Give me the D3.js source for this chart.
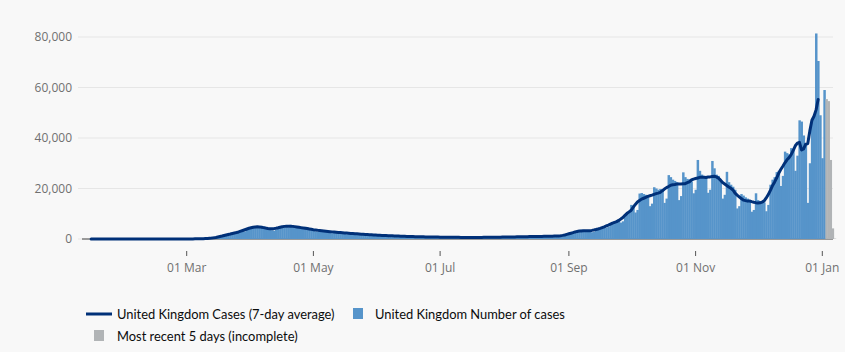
<!DOCTYPE html>
<html><head><meta charset="utf-8">
<script src="https://cdn.jsdelivr.net/npm/d3@7"></script>
<style>
html,body{margin:0;padding:0;background:#f8f8f8;}
svg{display:block;}
</style></head><body>
<svg id="chart" width="845" height="352"></svg>
<script>
// ---- data ----
const casesStartDate = "2020-01-12";
const avgStartDate = "2020-01-15";
const incompleteDays = 5;

const cases_2020_01 = [0,0,0,0,0,0,0,0,0,0,0,0,0,0,0,0,0,0,1,1];
const cases_2020_02 = [0,1,0,1,1,0,0,1,0,1,1,1,0,1,2,1,2,2,3,3,4,3,5,6,8,10,12,15,18];
const cases_2020_03 = [12,20,28,40,55,70,60,80,150,210,260,330,380,340,420,900,1100,1300,1500,1650,1500,1700,2200,2500,2800,3000,3100,2900,3000,4200,4600];
const cases_2020_04 = [4800,5000,5100,4300,4400,5200,4900,4700,4500,3900,3500,3300,3700,4700,4900,5100,5000,4700,4600,5600,5500,5100,5000,4700,4000,3900,4800,4600,4300,4100];
const cases_2020_05 = [3700,3000,2800,3600,3500,3300,3100,2700,2400,2300,3000,2900,2800,2600,2400,2000,1900,2500,2400,2300,2200,2000,1650,1550,1750,1950,1950,1850,1750,1350,1250];
const cases_2020_06 = [1600,1600,1500,1450,1400,1100,1050,1350,1300,1250,1200,1150,900,850,1100,1100,1050,1000,950,800,750,950,950,900,880,850,700,680,900,880];
const cases_2020_07 = [820,800,750,620,580,780,760,720,700,680,540,520,720,700,680,660,650,560,540,760,740,720,700,700,600,580,820,820,800,800,780];
const cases_2020_08 = [680,640,900,900,880,860,850,720,700,1000,1000,980,960,950,820,800,1150,1150,1100,1100,1080,900,880,1200,1200,1250,1300,1350,1150,1200,1700];
const cases_2020_09 = [2100,2500,2900,3000,2600,2800,3700,3600,3500,3300,3200,2700,2800,4100,4300,4500,4600,4800,4500,4900,6300,6700,7000,7300,7400,6500,7000,9600,10400,11200];
const cases_2020_10 = [13500,13000,10500,11500,18000,18200,17800,17500,17000,13000,14000,20500,20000,19500,19800,19000,14300,16000,25300,24500,23500,23000,22500,15400,17000,26400,24500,23800,23600,22800,18100];
const cases_2020_11 = [19500,31300,27000,25500,25000,24500,18300,19500,30900,28000,25500,25000,23500,16000,17500,26600,22500,21500,20700,19500,12100,13000,17800,17200,16500,16000,15200,10800,11500,18100];
const cases_2020_12 = [15400,15000,14800,14500,11000,13500,21500,23500,24500,26500,27000,21000,25000,34600,34000,33500,36000,35500,27000,33000,47000,46500,41000,38000,14300,30000,46000,49000,81400,70500,49000];
const cases_2021_01 = [32000,59000,55400,54600,31300,4200,150];

const avg_2020_01 = [0,0,0,0,0,0,0,0,0,0,0,0,0,0,0,0,0];
const avg_2020_02 = [0,0,1,1,1,1,1,1,1,1,1,1,1,1,1,1,2,2,2,3,3,4,5,6,7,9,11,13,16];
const avg_2020_03 = [15,22,32,43,55,70,93,118,148,184,227,299,375,470,615,790,970,1160,1380,1600,1810,1980,2200,2400,2570,2790,3100,3370,3660,3970,4250];
const avg_2020_04 = [4450,4650,4780,4850,4800,4680,4500,4330,4180,4080,4040,4100,4250,4450,4680,4880,5000,5060,5070,5040,5000,4900,4780,4640,4500,4370,4250,4120,3980,3850];
const avg_2020_05 = [3700,3600,3480,3380,3280,3180,3080,2990,2900,2820,2740,2670,2600,2530,2460,2400,2340,2280,2220,2160,2100,2040,1980,1920,1860,1800,1740,1690,1640,1590,1550];
const avg_2020_06 = [1510,1470,1430,1390,1350,1310,1270,1240,1210,1180,1150,1120,1090,1060,1030,1000,975,950,930,910,890,870,855,840,825,810,795,780,765,750];
const avg_2020_07 = [738,726,714,703,692,682,672,663,655,648,642,637,633,630,628,627,627,628,630,634,640,647,655,664,674,685,697,710,724,738,752];
const avg_2020_08 = [766,780,795,810,825,840,855,870,885,900,915,930,945,960,975,990,1005,1020,1035,1050,1065,1080,1100,1120,1140,1170,1200,1300,1440,1610,1840];
const avg_2020_09 = [2080,2290,2510,2800,3010,3160,3210,3240,3260,3260,3310,3410,3560,3740,3970,4230,4530,4840,5190,5540,5930,6300,6590,6890,7360,7890,8490,9370,10170,10740];
const avg_2020_10 = [11390,12590,13700,14640,15210,15790,16140,16500,16860,17110,17360,17690,17970,18160,18440,19130,19770,20340,20800,21300,21460,21600,21760,21760,21800,21890,21930,22310,22670,23370,23730];
const avg_2020_11 = [23970,24170,24410,24440,24440,24390,24530,24600,24750,24850,24600,24100,23300,22370,21800,21190,20610,20060,19410,18160,17400,16690,16010,15400,15210,15000,15040,14790,14570,14400];
const avg_2020_12 = [14300,14330,14610,15100,16260,17610,19290,21070,22500,24140,26010,27510,28800,30160,31370,32230,33370,35140,36930,38000,38290,35260,35690,37540,37830,42810,47030,48600,51130,55270];

const yTickValues = [0, 20000, 40000, 60000, 80000];
const xTickDates = ["2020-03-01","2020-05-01","2020-07-01","2020-09-01","2020-11-01","2021-01-01"];
const legendLine = "United Kingdom Cases (7-day average)";
const legendBars = "United Kingdom Number of cases";
const legendGrey = "Most recent 5 days (incomplete)";

// ---- build ----
const parse = d3.utcParse("%Y-%m-%d");
const dailyValues = [].concat(cases_2020_01, cases_2020_02, cases_2020_03, cases_2020_04, cases_2020_05, cases_2020_06,
  cases_2020_07, cases_2020_08, cases_2020_09, cases_2020_10, cases_2020_11, cases_2020_12, cases_2021_01);
const avgValues = [].concat(avg_2020_01, avg_2020_02, avg_2020_03, avg_2020_04, avg_2020_05, avg_2020_06,
  avg_2020_07, avg_2020_08, avg_2020_09, avg_2020_10, avg_2020_11, avg_2020_12);
const c0 = parse(casesStartDate), a0 = parse(avgStartDate);
const daily = dailyValues.map((v, i) => ({date: d3.utcDay.offset(c0, i), value: v, incomplete: i >= dailyValues.length - incompleteDays}));
const avg = avgValues.map((v, i) => ({date: d3.utcDay.offset(a0, i), value: v}));

const svg = d3.select("#chart");
const plotLeft = 78, plotRight = 833;
const x = d3.scaleUtc().domain([parse("2020-03-01"), parse("2021-01-01")]).range([186.7, 822.3]);
const y = d3.scaleLinear().domain([0, 80000]).range([239, 37]);
const step = x(parse("2020-03-02")) - x(parse("2020-03-01"));

const tickFont = '"Open Sans", sans-serif';
const tickColor = "#707070";

// gridlines
svg.append("g").selectAll("line").data(yTickValues).join("line")
  .attr("x1", plotLeft).attr("x2", plotRight)
  .attr("y1", d => y(d)).attr("y2", d => y(d))
  .attr("stroke", "#e6e6e6").attr("stroke-width", 1);
svg.append("line").attr("x1", 82).attr("x2", plotRight).attr("y1", y(0)).attr("y2", y(0))
  .attr("stroke", "#444").attr("stroke-width", 1);

// y labels
svg.append("g").selectAll("text").data(yTickValues).join("text")
  .attr("x", 72).attr("y", d => y(d)).attr("dy", "0.35em")
  .attr("text-anchor", "end").attr("font-family", tickFont).attr("font-size", 12)
  .attr("fill", tickColor).text(d => d3.format(",")(d));

// x ticks
const xt = svg.append("g").selectAll("g").data(xTickDates.map(parse)).join("g")
  .attr("transform", d => `translate(${x(d)},0)`);
xt.append("line").attr("y1", 251).attr("y2", 256).attr("stroke", "#555").attr("stroke-width", 1);
xt.append("text").attr("y", 272).attr("text-anchor", "middle")
  .attr("font-family", tickFont).attr("font-size", 12).attr("fill", tickColor)
  .text(d => d3.utcFormat("%d %b")(d));

// bars
svg.append("g").selectAll("rect").data(daily.filter(d => d.value > 0)).join("rect")
  .attr("x", d => x(d.date) - step / 2)
  .attr("width", step + 0.4)
  .attr("y", d => y(d.value))
  .attr("height", d => y(0) - y(d.value))
  .attr("fill", d => d.incomplete ? "#b1b4b6" : "#5694ca");

// line
svg.append("path").datum(avg)
  .attr("fill", "none").attr("stroke", "#003078").attr("stroke-width", 3)
  .attr("stroke-linejoin", "round").attr("stroke-linecap", "round")
  .attr("d", d3.line().x(d => x(d.date)).y(d => y(d.value)));

// legend
const lg = svg.append("g").attr("font-family", "Lato, sans-serif").attr("font-size", 12.9).attr("fill", "#0b0c0c");
lg.append("line").attr("x1", 86).attr("x2", 112).attr("y1", 314).attr("y2", 314)
  .attr("stroke", "#003078").attr("stroke-width", 3);
lg.append("text").attr("x", 117).attr("y", 318.5).text(legendLine);
lg.append("rect").attr("x", 353).attr("y", 308).attr("width", 10).attr("height", 11).attr("fill", "#5694ca");
lg.append("text").attr("x", 375).attr("y", 318.5).text(legendBars);
lg.append("rect").attr("x", 94).attr("y", 330).attr("width", 10).attr("height", 11).attr("fill", "#b1b4b6");
lg.append("text").attr("x", 117).attr("y", 341).text(legendGrey);
</script>
</body></html>
